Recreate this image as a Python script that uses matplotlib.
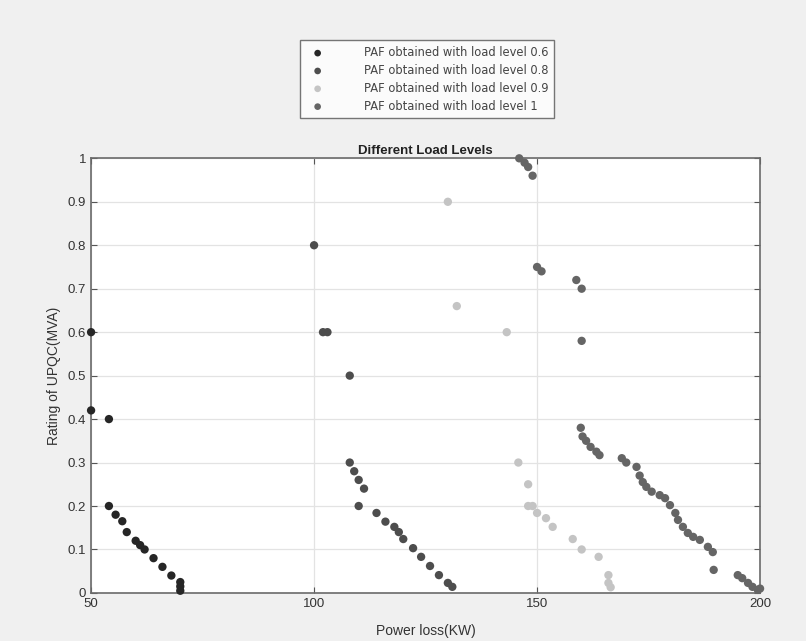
import numpy as np
import matplotlib
matplotlib.use("Agg")
import matplotlib.pyplot as plt

plt.rcParams['font.family'] = ['Liberation Sans', 'DejaVu Sans']

# values
x_06 = [50, 50, 54, 54, 55.5, 57, 58, 60, 61, 62, 64, 66, 68, 70, 70, 70]
y_06 = [0.60, 0.42, 0.40, 0.20, 0.18, 0.165, 0.14, 0.12, 0.11, 0.10, 0.08,
        0.06, 0.04, 0.025, 0.015, 0.005]

x_08 = [100, 102, 103, 108, 108, 109, 110, 111.2, 110, 114, 116, 118, 119,
        120, 122.2, 124, 126, 128, 130, 131]
y_08 = [0.80, 0.60, 0.60, 0.50, 0.30, 0.28, 0.26, 0.24, 0.20, 0.184, 0.164,
        0.152, 0.14, 0.124, 0.103, 0.083, 0.062, 0.041, 0.023, 0.014]

x_09 = [130, 132, 143.2, 145.8, 148, 148, 149, 150, 152, 153.5, 158, 160,
        163.8, 166, 166, 166.5]
y_09 = [0.90, 0.66, 0.60, 0.30, 0.25, 0.20, 0.20, 0.184, 0.172, 0.152, 0.124,
        0.10, 0.083, 0.041, 0.023, 0.013]

x_10 = [146, 147.2, 148, 149, 150, 151, 158.8, 160, 160, 159.8, 160.2, 161,
        162, 163.3, 164, 169, 170, 172.3, 173, 173.7, 174.5, 175.7, 177.5,
        178.7, 179.8, 181, 181.6, 182.7, 183.8, 185, 186.5, 188.3, 189.4,
        189.6, 195, 196, 197.3, 198.3, 199.5, 200]
y_10 = [1.0, 0.99, 0.98, 0.96, 0.75, 0.74, 0.72, 0.70, 0.58, 0.38, 0.36, 0.35,
        0.336, 0.325, 0.317, 0.31, 0.30, 0.29, 0.27, 0.255, 0.244, 0.233,
        0.225, 0.218, 0.202, 0.184, 0.168, 0.152, 0.138, 0.129, 0.122, 0.106,
        0.094, 0.053, 0.041, 0.034, 0.023, 0.014, 0.007, 0.01]

series = [
    (x_06, y_06, '#262626', 'PAF obtained with load level 0.6'),
    (x_08, y_08, '#4d4d4d', 'PAF obtained with load level 0.8'),
    (x_09, y_09, '#c4c4c4', 'PAF obtained with load level 0.9'),
    (x_10, y_10, '#656565', 'PAF obtained with load level 1'),
]

fig = plt.figure(figsize=(8.06, 6.41), dpi=100, facecolor='#f0f0f0')
ax = fig.add_axes([0.113, 0.075, 0.830, 0.678])
ax.set_facecolor('white')

for xs, ys, col, lab in series:
    ax.scatter(xs, ys, s=36, c=col, edgecolors='none', label=lab, zorder=3,
               clip_on=False)

ax.set_xlim(50, 200)
ax.set_ylim(0, 1)
ax.set_xticks([50, 100, 150, 200])
ax.set_yticks(np.arange(0, 1.01, 0.1))
ax.set_yticklabels(['0'] + ['%.1f' % v for v in np.arange(0.1, 0.95, 0.1)] + ['1'])
ax.grid(True, color='#e3e3e3', linewidth=0.9)
ax.set_axisbelow(True)
ax.tick_params(direction='in', top=True, right=True, labelsize=9.5,
               colors='#555555', labelcolor='#333333', length=4)
for sp in ax.spines.values():
    sp.set_color('#6a6a6a')
    sp.set_linewidth(1.2)

ax.set_title('Different Load Levels', fontsize=9.5, fontweight='bold',
             color='#222222', pad=3)
ax.set_xlabel('Power loss(KW)', fontsize=10, color='#333333', labelpad=10)
ax.set_ylabel('Rating of UPQC(MVA)', fontsize=10, color='#333333', labelpad=5)

leg = fig.legend(loc='upper center', bbox_to_anchor=(0.53, 0.937),
                 prop={'family': 'DejaVu Sans', 'size': 8.3},
                 frameon=True, fancybox=False, edgecolor='#555555',
                 borderpad=0.5, labelspacing=0.42, handletextpad=3.0,
                 borderaxespad=0, markerscale=0.8)
leg.get_frame().set_linewidth(1.0)
for t in leg.get_texts():
    t.set_color('#444444')

fig.savefig('out.png', dpi=100, facecolor=fig.get_facecolor())
